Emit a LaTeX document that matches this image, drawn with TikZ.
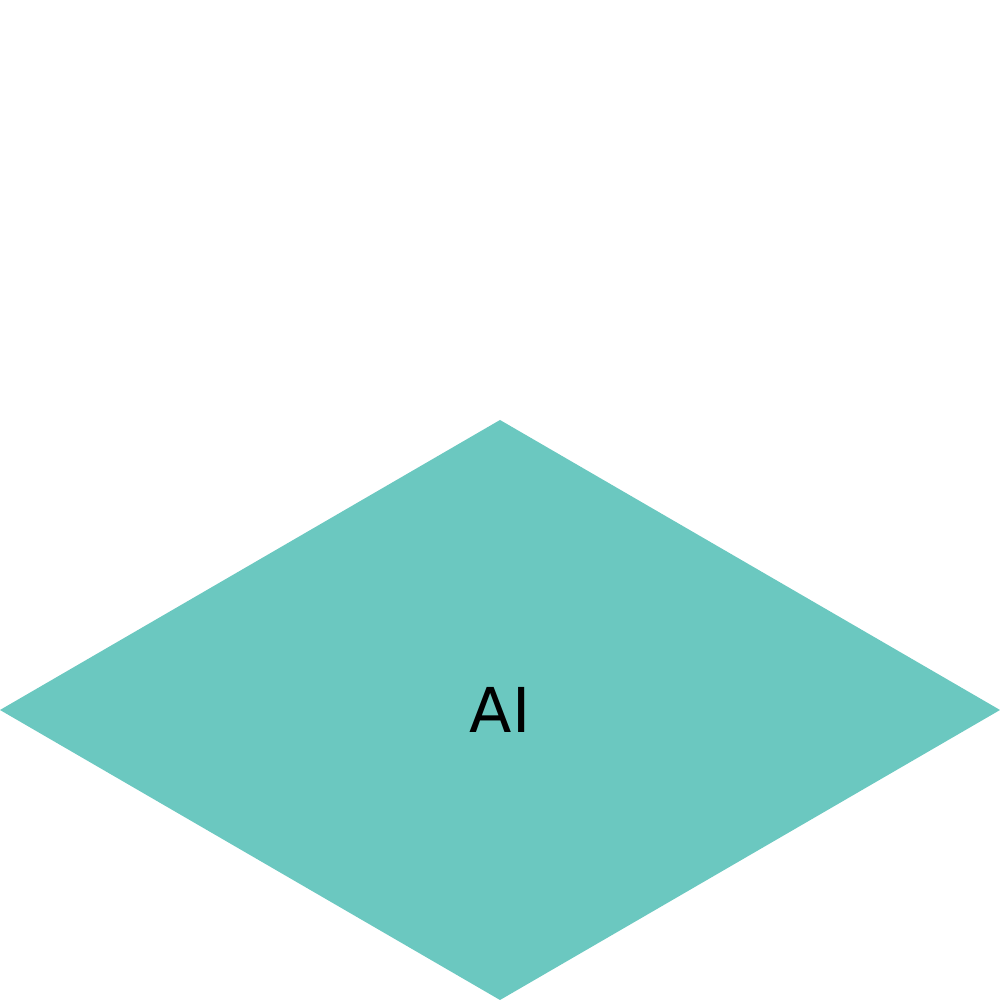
\documentclass[tikz,border=0pt]{standalone}
\usepackage{fontspec}
\setmainfont{DejaVu Sans}
\usetikzlibrary{shapes.geometric}
\definecolor{tealfill}{HTML}{6BC8C0}

\begin{document}
\begin{tikzpicture}[
  tile/.style={diamond, fill=tealfill, draw=none, minimum width=10cm, minimum height=5.8cm, inner sep=0pt, outer sep=0pt, font=\fontsize{17.6}{21}\selectfont}
]
\useasboundingbox (0,0) rectangle (10,10);
\node[tile] (ai) at (5,2.9) {AI};
\end{tikzpicture}
\end{document}
